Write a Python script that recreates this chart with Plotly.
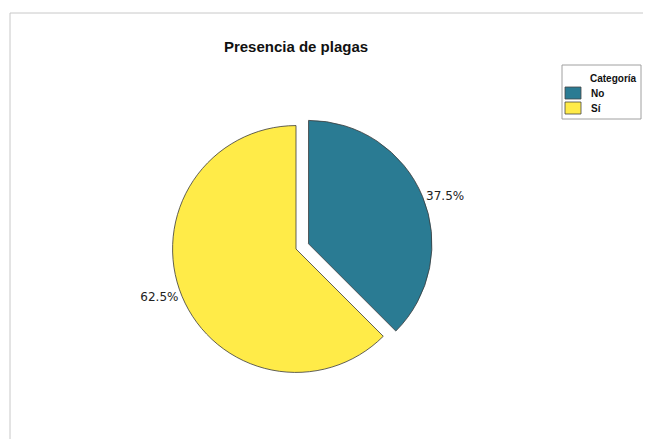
import plotly.graph_objects as go

categories = ["No", "Sí"]
values = [37.5, 62.5]
colors = ["#2a7b93", "#ffeb48"]
legend_title = "Categoría"
chart_title = "Presencia de plagas"

W, H = 651, 439


def px(x):
    return x / W


def py(y):
    return 1 - y / H


fig = go.Figure()
fig.add_trace(go.Pie(
    labels=categories,
    values=values,
    sort=False,
    direction="clockwise",
    rotation=0,
    pull=[0.11, 0],
    marker=dict(colors=colors, line=dict(color="#3a3a3a", width=0.8)),
    texttemplate="%{percent:.1%}",
    textposition="outside",
    outsidetextfont=dict(family="DejaVu Sans", size=12, color="#222222"),
    hoverinfo="label+percent",
    domain=dict(x=[px(151), px(425)], y=[py(378), py(104)]),
    showlegend=False,
))

shapes = [
    dict(type="line", xref="paper", yref="paper", x0=px(2), x1=1, y0=py(5), y1=py(5),
         line=dict(color="#c8c8c8", width=1)),
    dict(type="line", xref="paper", yref="paper", x0=px(2), x1=px(2), y0=0, y1=py(5),
         line=dict(color="#c8c8c8", width=1)),
    # legend box
    dict(type="rect", xref="paper", yref="paper", x0=px(554), x1=px(633), y0=py(111), y1=py(57),
         line=dict(color="#a0a0a0", width=1), fillcolor="white"),
]
annotations = [
    dict(text="<b>" + legend_title + "</b>", xref="paper", yref="paper", x=px(580), y=py(70),
         xanchor="left", yanchor="middle", showarrow=False,
         font=dict(family="Liberation Sans", size=10, color="#111111")),
]
for i, (cat, col) in enumerate(zip(categories, colors)):
    top = 79 + 15 * i
    shapes.append(dict(type="rect", xref="paper", yref="paper", x0=px(557), x1=px(573),
                       y0=py(top + 12), y1=py(top), line=dict(color="#444444", width=0.8),
                       fillcolor=col))
    annotations.append(dict(text="<b>" + cat + "</b>", xref="paper", yref="paper", x=px(581),
                            y=py(top + 6), xanchor="left", yanchor="middle", showarrow=False,
                            font=dict(family="Liberation Sans", size=10, color="#111111")))

fig.update_layout(
    width=W, height=H,
    margin=dict(l=0, r=0, t=0, b=0),
    paper_bgcolor="white",
    plot_bgcolor="white",
    title=dict(text="<b>" + chart_title + "</b>", x=px(288), xanchor="center", y=py(39), yanchor="middle",
               font=dict(family="Liberation Sans", size=15, color="#111111")),
    shapes=shapes,
    annotations=annotations,
)

fig.write_html("out.html")
